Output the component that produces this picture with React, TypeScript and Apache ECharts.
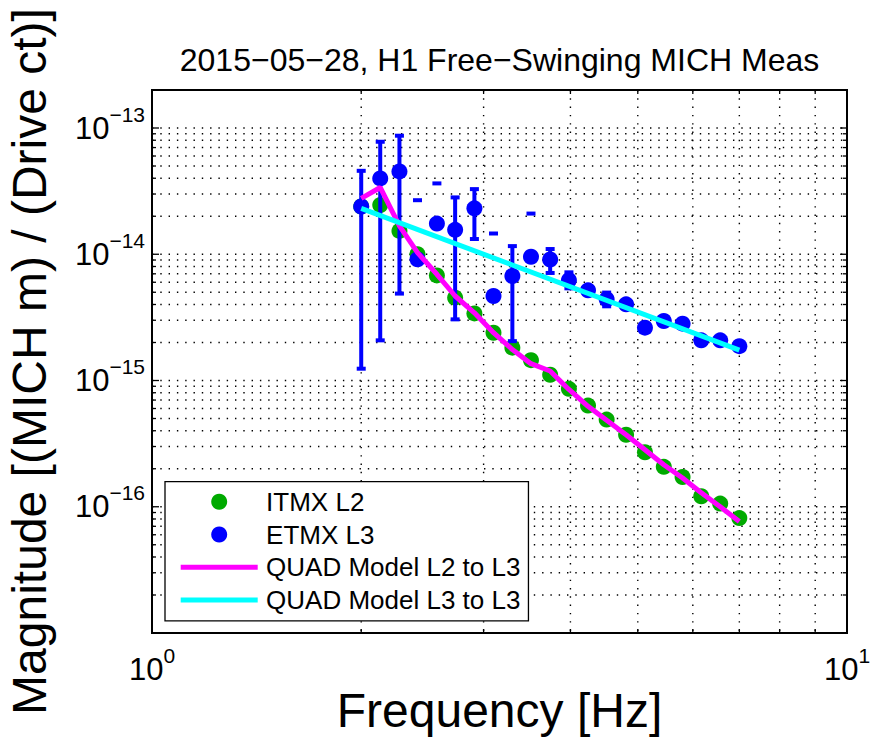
import React, { useEffect, useRef } from "react";
import * as echarts from "echarts";

const FONT = "'Liberation Sans', Arial, Helvetica, sans-serif";

const TITLE = "2015−05−28, H1 Free−Swinging MICH Meas";
const X_LABEL = "Frequency [Hz]";
const Y_LABEL = "Magnitude [(MICH m) / (Drive ct)]";

// Measurement frequencies [Hz]
const freqs = [2.0, 2.13, 2.27, 2.41, 2.57, 2.73, 2.91, 3.1, 3.3, 3.51, 3.74, 3.98, 4.24, 4.51, 4.81, 5.12, 5.45, 5.8, 6.17, 6.57, 7.0];

// ITMX L2 measurement
const itmxL2 = [2.39e-14, 2.45e-14, 1.53e-14, 1.0e-14, 6.8e-15, 4.53e-15, 3.4e-15, 2.39e-15, 1.82e-15, 1.45e-15, 1.11e-15, 8.59e-16, 6.33e-16, 4.9e-16, 3.72e-16, 2.7e-16, 2.07e-16, 1.72e-16, 1.21e-16, 1.06e-16, 8.13e-17];

// ETMX L3 measurement and its error-bar bounds (null = not drawn)
const etmxL3 = [2.39e-14, 3.99e-14, 4.53e-14, 9.12e-15, 1.75e-14, 1.56e-14, 2.31e-14, 4.67e-15, 6.73e-15, 9.55e-15, 9.08e-15, 6.22e-15, 5.18e-15, 4.4e-15, 4.01e-15, 2.62e-15, 2.96e-15, 2.82e-15, 2.08e-15, 2.08e-15, 1.87e-15];
const etmxErrHigh = [4.58e-14, 7.78e-14, 8.69e-14, 2.68e-14, 3.64e-14, 2.82e-14, 3.28e-14, 1.46e-14, 1.16e-14, 2.1e-14, 1.1e-14, 7.19e-15, null, 4.97e-15, null, null, null, null, null, null, null];
const etmxErrLow = [1.24e-15, 2.08e-15, 4.88e-15, null, null, 3.05e-15, 1.32e-14, null, 2.05e-15, null, 7.11e-15, 5.37e-15, null, 3.87e-15, null, null, null, null, null, null, null];

// QUAD models
const quadL2toL3 = [2.77e-14, 3.38e-14, 1.68e-14, 1.03e-14, 6.94e-15, 4.67e-15, 3.44e-15, 2.39e-15, 1.76e-15, 1.36e-15, 1.19e-15, 8.49e-16, 6.25e-16, 4.84e-16, 3.72e-16, 2.83e-16, 2.15e-16, 1.69e-16, 1.29e-16, 1.0e-16, 7.64e-17];
const quadL3toL3Freqs = [2.0, 7.0];
const quadL3toL3 = [2.31e-14, 1.74e-15];

// Axis ranges and grid lines
const xRange = [1, 10];
const yRange = [1e-17, 2e-13];
const xGridValues = [2, 3, 4, 5, 6, 7, 8, 9];
const yGridValues = [
  2e-17, 3e-17, 4e-17, 5e-17, 6e-17, 7e-17, 8e-17, 9e-17,
  1e-16, 2e-16, 3e-16, 4e-16, 5e-16, 6e-16, 7e-16, 8e-16, 9e-16,
  1e-15, 2e-15, 3e-15, 4e-15, 5e-15, 6e-15, 7e-15, 8e-15, 9e-15,
  1e-14, 2e-14, 3e-14, 4e-14, 5e-14, 6e-14, 7e-14, 8e-14, 9e-14,
  1e-13,
];
const yLabelExponents = [-16, -15, -14, -13];
const xLabelExponents = [0, 1];

const LEGEND_NAMES = ["ITMX L2", "ETMX L3", "QUAD Model L2 to L3", "QUAD Model L3 to L3"];

const GREEN = "#00aa00";
const BLUE = "#0000ff";
const MAGENTA = "#ff00ff";
const CYAN = "#00ffff";

const LINE_ICON = "path://M0,0L77,0L77,5L0,5Z";

const richLabel = {
  a: { fontSize: 31, fontFamily: FONT, color: "#000" },
  b: { fontSize: 21, fontFamily: FONT, color: "#000", padding: [0, 0, 28, 0] },
};

function powLabel(v: number, allowed: number[]) {
  const lg = Math.log10(v);
  const e = Math.round(lg);
  if (Math.abs(lg - e) > 1e-6 || allowed.indexOf(e) < 0) return "";
  const exp = e < 0 ? "−" + String(-e) : String(e);
  return "{a|10}{b|" + exp + "}";
}

function isMajor(v: number) {
  const lg = Math.log10(v);
  return Math.abs(lg - Math.round(lg)) < 1e-6;
}

const dotStyle = { stroke: "#000", lineWidth: 1.4, lineDash: [1.4, 6.9] };
const tickStyle = { stroke: "#000", lineWidth: 1.3 };

export default function App() {
  const ref = useRef<HTMLDivElement>(null);

  useEffect(() => {
    if (!ref.current) return;
    const chart = echarts.init(ref.current, undefined, { renderer: "svg" });

    const errData = freqs
      .map((f, i) => [f, etmxErrHigh[i], etmxErrLow[i]])
      .filter((d) => d[1] != null || d[2] != null);

    const option: any = {
      animation: false,
      backgroundColor: "#fff",
      title: {
        text: TITLE,
        left: 499.5,
        top: 60.4,
        padding: 0,
        textAlign: "center",
        textVerticalAlign: "middle",
        textStyle: { fontSize: 32, fontWeight: "normal", color: "#000", fontFamily: FONT },
      },
      grid: {
        left: 152,
        top: 90,
        right: 24,
        bottom: 105,
        show: true,
        borderColor: "#000",
        borderWidth: 2,
        backgroundColor: "transparent",
        containLabel: false,
        outerBoundsMode: "none",
      },
      legend: {
        show: true,
        orient: "vertical",
        left: 165,
        top: 481.7,
        padding: [7, 8, 7.7, 15.7],
        itemWidth: 77,
        itemHeight: 16,
        itemGap: 6.8,
        backgroundColor: "#fff",
        borderColor: "#000",
        borderWidth: 1.3,
        borderRadius: 0,
        selectedMode: false,
        z: 10,
        textStyle: { fontSize: 26, color: "#000", fontFamily: FONT, padding: [0, 0, 0, 3.4] },
        data: [
          { name: LEGEND_NAMES[0], icon: "circle" },
          { name: LEGEND_NAMES[1], icon: "circle" },
          { name: LEGEND_NAMES[2], icon: LINE_ICON, itemStyle: { color: MAGENTA } },
          { name: LEGEND_NAMES[3], icon: LINE_ICON, itemStyle: { color: CYAN } },
        ],
      },
      xAxis: {
        type: "log",
        logBase: 10,
        min: xRange[0],
        max: xRange[1],
        name: X_LABEL,
        nameLocation: "middle",
        nameGap: 53.4,
        nameMoveOverlap: false,
        nameTextStyle: { fontSize: 48, color: "#000", fontFamily: FONT },
        axisLine: { show: false },
        axisTick: { show: false },
        splitLine: { show: false },
        minorTick: { show: false },
        axisLabel: {
          margin: 11.5,
          color: "#000",
          fontFamily: FONT,
          formatter: (v: number) => powLabel(v, xLabelExponents),
          rich: richLabel,
        },
      },
      yAxis: {
        type: "log",
        logBase: 10,
        min: yRange[0],
        max: yRange[1],
        name: Y_LABEL,
        nameLocation: "middle",
        nameGap: 98.6,
        nameMoveOverlap: false,
        nameTextStyle: { fontSize: 48, color: "#000", fontFamily: FONT },
        axisLine: { show: false },
        axisTick: { show: false },
        splitLine: { show: false },
        minorTick: { show: false },
        axisLabel: {
          margin: 7,
          color: "#000",
          fontFamily: FONT,
          formatter: (v: number) => powLabel(v, yLabelExponents),
          rich: richLabel,
        },
      },
      series: [
        {
          type: "custom",
          name: "hgrid",
          silent: true,
          z: 1,
          data: yGridValues.map((v) => [xRange[0], v]),
          encode: { x: 0, y: 1 },
          renderItem: (params: any, api: any) => {
            const cs = params.coordSys;
            const v = api.value(1);
            const p = api.coord([api.value(0), v]);
            const t = isMajor(v) ? 7 : 4;
            const y = p[1];
            return {
              type: "group",
              children: [
                { type: "line", shape: { x1: cs.x, y1: y, x2: cs.x + cs.width, y2: y }, style: dotStyle },
                { type: "line", shape: { x1: cs.x, y1: y, x2: cs.x + t, y2: y }, style: tickStyle },
                { type: "line", shape: { x1: cs.x + cs.width - t, y1: y, x2: cs.x + cs.width, y2: y }, style: tickStyle },
              ],
            };
          },
        },
        {
          type: "custom",
          name: "vgrid",
          silent: true,
          z: 1,
          data: xGridValues.map((f) => [f, yRange[0]]),
          encode: { x: 0, y: 1 },
          renderItem: (params: any, api: any) => {
            const cs = params.coordSys;
            const f = api.value(0);
            const p = api.coord([f, api.value(1)]);
            const t = isMajor(f) ? 7 : 4;
            const x = p[0];
            return {
              type: "group",
              children: [
                { type: "line", shape: { x1: x, y1: cs.y, x2: x, y2: cs.y + cs.height }, style: dotStyle },
                { type: "line", shape: { x1: x, y1: cs.y + cs.height - t, x2: x, y2: cs.y + cs.height }, style: tickStyle },
                { type: "line", shape: { x1: x, y1: cs.y, x2: x, y2: cs.y + t }, style: tickStyle },
              ],
            };
          },
        },
        {
          type: "scatter",
          name: LEGEND_NAMES[0],
          z: 2,
          silent: true,
          symbol: "circle",
          symbolSize: 16,
          itemStyle: { color: GREEN, opacity: 1 },
          emphasis: { disabled: true },
          data: freqs.map((f, i) => [f, itmxL2[i]]),
        },
        {
          type: "custom",
          name: "etmxErr",
          silent: true,
          z: 3,
          dimensions: ["f", "hi", "lo"],
          encode: { x: 0, y: [1, 2] },
          data: errData,
          renderItem: (params: any, api: any) => {
            const f = api.value(0);
            const hi = api.value(1);
            const lo = api.value(2);
            const style = { stroke: BLUE, lineWidth: 4 };
            const cap = 4.5;
            const children: any[] = [];
            const pHi = Number.isFinite(hi) && hi > 0 ? api.coord([f, hi]) : null;
            const pLo = Number.isFinite(lo) && lo > 0 ? api.coord([f, lo]) : null;
            if (pHi && pLo) {
              children.push({ type: "line", shape: { x1: pHi[0], y1: pHi[1], x2: pLo[0], y2: pLo[1] }, style });
            }
            if (pHi) {
              children.push({ type: "line", shape: { x1: pHi[0] - cap, y1: pHi[1], x2: pHi[0] + cap, y2: pHi[1] }, style });
            }
            if (pLo) {
              children.push({ type: "line", shape: { x1: pLo[0] - cap, y1: pLo[1], x2: pLo[0] + cap, y2: pLo[1] }, style });
            }
            return { type: "group", children };
          },
        },
        {
          type: "scatter",
          name: LEGEND_NAMES[1],
          z: 3,
          silent: true,
          symbol: "circle",
          symbolSize: 16,
          itemStyle: { color: BLUE, opacity: 1 },
          emphasis: { disabled: true },
          data: freqs.map((f, i) => [f, etmxL3[i]]),
        },
        {
          type: "line",
          name: LEGEND_NAMES[2],
          z: 4,
          silent: true,
          symbol: "none",
          showSymbol: false,
          lineStyle: { color: MAGENTA, width: 5 },
          itemStyle: { color: MAGENTA },
          emphasis: { disabled: true },
          data: freqs.map((f, i) => [f, quadL2toL3[i]]),
        },
        {
          type: "line",
          name: LEGEND_NAMES[3],
          z: 5,
          silent: true,
          symbol: "none",
          showSymbol: false,
          lineStyle: { color: CYAN, width: 5 },
          itemStyle: { color: CYAN },
          emphasis: { disabled: true },
          data: quadL3toL3Freqs.map((f, i) => [f, quadL3toL3[i]]),
        },
      ],
    };

    chart.setOption(option);
    return () => {
      chart.dispose();
    };
  }, []);

  return (
    <div
      ref={ref}
      style={{ position: "absolute", left: 0, top: 0, width: 871, height: 738, background: "#fff" }}
    />
  );
}
